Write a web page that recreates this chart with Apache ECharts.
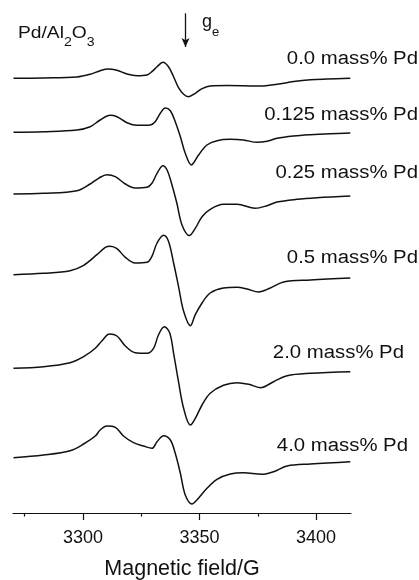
<!DOCTYPE html>
<html>
<head>
<meta charset="utf-8">
<script src="https://cdn.jsdelivr.net/npm/echarts@6/dist/echarts.min.js"></script>
<style>
  html, body { margin: 0; padding: 0; background: #fff; }
  #chart { width: 419px; height: 580px; }
</style>
</head>
<body>
<div id="chart"></div>
<script>
// EPR spectra of Pd/Al2O3 samples: [magnetic field (G), signal (a.u.)]
const sampleLabels = ['0.0 mass% Pd', '0.125 mass% Pd', '0.25 mass% Pd', '0.5 mass% Pd', '2.0 mass% Pd', '4.0 mass% Pd'];

const spectrumPd000 = [
  [3270.2, 0], [3283.1, 0.3], [3297.4, 1.3], [3303.1, 4.0], [3307.4, 7.6], [3310.7, 9.3],
  [3314.6, 8.0], [3318.9, 4.3], [3323.2, 2.6], [3327.5, 3.3], [3329.6, 6.6], [3331.8, 11.6],
  [3334.3, 16.0], [3336.7, 11.6], [3338.9, 1.6], [3341.0, -9.4], [3343.2, -16.0], [3345.3, -18.4],
  [3348.2, -15.0], [3351.1, -10.4], [3354.6, -7.6], [3361.8, -7.2], [3368.9, -7.4], [3376.1, -7.8],
  [3383.3, -6.0], [3390.4, -3.2], [3397.6, -1.4], [3404.7, -0.7], [3414.7, 0]
];
const spectrumPd0125 = [
  [3270.2, 0], [3283.1, 0.6], [3297.4, 2.3], [3303.1, 5.6], [3307.4, 12.3], [3311.7, 17.0],
  [3314.6, 15.6], [3318.9, 9.6], [3323.2, 7.0], [3328.9, 7.3], [3331.0, 10.6], [3333.2, 19.0],
  [3335.3, 24.3], [3337.5, 21.6], [3339.6, 10.6], [3341.8, -4.4], [3343.9, -21.0], [3346.5, -32.7],
  [3347.5, -30.4], [3349.6, -22.7], [3353.2, -12.7], [3357.5, -8.4], [3363.2, -7.0], [3368.9, -7.7],
  [3374.7, -10.0], [3379.0, -9.0], [3383.3, -6.0], [3390.4, -3.7], [3397.6, -2.4], [3406.1, -1.4],
  [3414.7, -0.7]
];
const spectrumPd025 = [
  [3270.2, 0], [3283.1, 0.7], [3297.4, 3.3], [3303.1, 10.0], [3306.7, 15.7], [3310.3, 19.3],
  [3313.9, 17.3], [3318.2, 10.0], [3322.4, 6.0], [3327.5, 6.7], [3329.6, 10.7], [3331.8, 20.7],
  [3334.3, 28.3], [3336.1, 24.0], [3338.2, 9.0], [3340.3, -9.3], [3342.5, -31.0], [3345.6, -41.5],
  [3348.2, -34.3], [3351.1, -22.7], [3354.6, -15.3], [3360.3, -10.3], [3366.1, -10.3], [3373.9, -14.3],
  [3379.0, -11.7], [3383.3, -8.0], [3391.8, -5.3], [3400.4, -3.7], [3414.7, -2.0]
];
const spectrumPd05 = [
  [3270.2, 0], [3283.1, 1.4], [3294.5, 4.0], [3300.3, 9.4], [3306.0, 20.0], [3309.6, 27.4],
  [3311.7, 28.4], [3314.6, 26.0], [3318.2, 17.4], [3322.4, 11.7], [3327.5, 12.4], [3329.6, 18.4],
  [3331.8, 31.7], [3334.6, 39.4], [3336.7, 33.4], [3338.9, 11.7], [3341.0, -11.6], [3343.2, -36.6],
  [3346.1, -51.0], [3348.2, -40.0], [3351.1, -28.3], [3354.6, -18.3], [3360.3, -13.3], [3366.1, -12.6],
  [3370.4, -14.3], [3375.4, -17.3], [3380.4, -13.3], [3386.1, -7.3], [3397.6, -5.3], [3414.7, -3.3]
];
const spectrumPd20 = [
  [3270.2, 0], [3283.1, 1.6], [3294.5, 5.6], [3300.3, 11.6], [3305.3, 20.0], [3308.2, 27.6],
  [3311.4, 34.3], [3314.6, 32.3], [3318.2, 22.3], [3322.4, 15.6], [3327.5, 15.0], [3330.3, 20.0],
  [3332.4, 33.3], [3334.9, 41.6], [3337.2, 35.6], [3338.9, 15.0], [3341.0, -13.4], [3343.2, -40.0],
  [3346.1, -56.7], [3348.2, -50.0], [3351.1, -36.7], [3354.6, -25.0], [3360.3, -17.0], [3366.1, -14.4],
  [3371.1, -16.0], [3376.1, -19.4], [3381.8, -13.4], [3387.6, -7.4], [3397.6, -5.0], [3414.7, -3.4]
];
const spectrumPd40 = [
  [3270.2, 0], [3283.1, 2.7], [3294.5, 7.0], [3300.3, 13.7], [3305.3, 21.7], [3307.4, 27.7],
  [3310.3, 31.7], [3313.9, 30.4], [3317.4, 21.7], [3321.7, 15.0], [3326.0, 11.7], [3329.6, 9.4],
  [3331.8, 16.0], [3334.6, 22.0], [3337.5, 17.7], [3339.6, 4.4], [3341.8, -15.6], [3343.9, -37.3],
  [3346.8, -46.3], [3348.9, -42.3], [3353.2, -30.6], [3357.5, -21.6], [3363.2, -16.3], [3368.9, -15.0],
  [3376.8, -16.6], [3381.8, -14.0], [3387.6, -8.3], [3397.6, -6.3], [3414.7, -4.0]
];

// Field position of the free-electron g value marker
const geField = 3344;

// Tick values on the field axis
const majorTicks = [3300, 3350, 3400];
const minorTicks = [3275, 3325, 3375];

const spectra = [spectrumPd000, spectrumPd0125, spectrumPd025, spectrumPd05, spectrumPd20, spectrumPd40];

// Vertical stacking of the traces
const traceOffsets = [434.7, 380.7, 319, 238.3, 144.7, 55.3];
const labelAnchors = [[418, 59], [418, 115], [418, 173], [418, 258], [404, 353], [408, 446]];

const FONT = '"Liberation Sans", Arial, Helvetica, sans-serif';
const INK = '#111';
const TEXT_STRETCH = 1.13;

const chart = echarts.init(document.getElementById('chart'), null, { renderer: 'canvas' });

const series = spectra.map((spec, i) => {
  const s = {
    type: 'line',
    name: sampleLabels[i],
    xAxisIndex: 0,
    yAxisIndex: 0,
    data: spec.map(([f, v]) => [f, v + traceOffsets[i]]),
    showSymbol: false,
    smooth: 0.35,
    lineStyle: { color: INK, width: 1.5 },
    silent: true,
    z: 3
  };
  if (i === 0) {
    s.markLine = {
      silent: true,
      symbol: ['none', 'arrow'],
      symbolSize: [6, 9],
      label: { show: false },
      lineStyle: { color: INK, width: 1.3, type: 'solid' },
      data: [[{ coord: [geField, 499.7] }, { coord: [geField, 466] }]]
    };
  }
  return s;
});

const labelGraphics = sampleLabels.map((txt, i) => ({
  type: 'text',
  x: labelAnchors[i][0],
  y: labelAnchors[i][1],
  scaleX: TEXT_STRETCH,
  style: {
    text: txt,
    fill: INK,
    font: '18px ' + FONT,
    textAlign: 'right',
    textVerticalAlign: 'middle'
  }
}));

// Rich text styles for names with subscripts
function subscriptRich(mainSize, subSize, lineH) {
  return {
    m: { fontSize: mainSize, fontFamily: FONT, fill: INK, lineHeight: lineH, verticalAlign: 'top' },
    s: { fontSize: subSize, fontFamily: FONT, fill: INK, lineHeight: lineH, verticalAlign: 'bottom' }
  };
}

chart.setOption({
  animation: false,
  backgroundColor: '#fff',
  grid: { left: 13, right: 68, top: 13, bottom: 67, containLabel: false, outerBoundsMode: 'none' },
  xAxis: [
    {
      type: 'value',
      min: 3270,
      max: 3415,
      position: 'bottom',
      axisLine: { show: true, onZero: false, lineStyle: { color: INK, width: 1.2 } },
      axisTick: { show: true, inside: false, length: 7, customValues: majorTicks, lineStyle: { color: INK, width: 1.2 } },
      axisLabel: {
        show: true, customValues: majorTicks, color: INK, fontSize: 18, fontFamily: FONT, margin: 16,
        formatter: (v) => String(v)
      },
      splitLine: { show: false },
      name: 'Magnetic field/G',
      nameLocation: 'middle',
      nameGap: 45,
      nameTextStyle: { color: INK, fontSize: 21.5, fontFamily: FONT }
    },
    {
      type: 'value',
      min: 3270,
      max: 3415,
      position: 'bottom',
      axisLine: { show: false, onZero: false },
      axisTick: { show: true, inside: false, length: 3.5, customValues: minorTicks, lineStyle: { color: INK, width: 1.2 } },
      axisLabel: { show: false },
      splitLine: { show: false }
    }
  ],
  yAxis: { type: 'value', min: 0, max: 500, show: false },
  series: series,
  graphic: labelGraphics.concat([
    {
      type: 'text',
      x: 18,
      y: 25,
      scaleX: TEXT_STRETCH,
      style: {
        rich: subscriptRich(17, 12.5, 24),
        text: '{m|Pd/Al}{s|2}{m|O}{s|3}',
        textVerticalAlign: 'top'
      }
    },
    {
      type: 'text',
      x: 202,
      y: 13,
      style: {
        rich: subscriptRich(18, 13, 26),
        text: '{m|g}{s|e}',
        textVerticalAlign: 'top'
      }
    }
  ])
});
</script>
</body>
</html>
